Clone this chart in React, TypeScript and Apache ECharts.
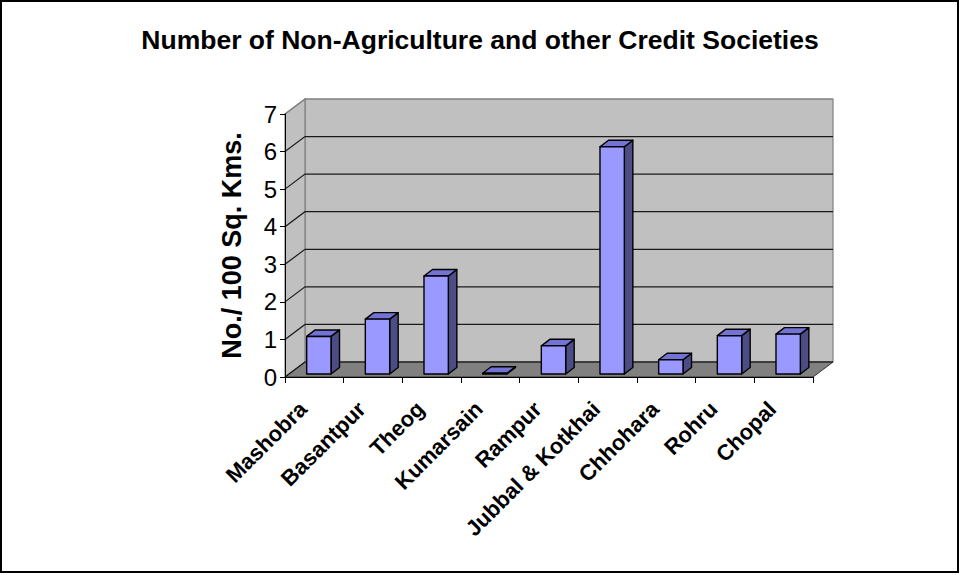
import React, { useEffect, useRef } from "react";
import * as echarts from "echarts";

const categories = ["Mashobra", "Basantpur", "Theog", "Kumarsain", "Rampur", "Jubbal & Kotkhai", "Chhohara", "Rohru", "Chopal"];
const values = [1.0, 1.46, 2.61, 0.02, 0.75, 6.05, 0.38, 1.02, 1.06];
const yTicks = [0, 1, 2, 3, 4, 5, 6, 7];

const FONT = "'Liberation Sans', Arial, Helvetica, sans-serif";
const DX = 20; // wall depth
const DY = -15;
const BOX = 4.5; // bar front offset
const BOY = -3;
const BDX = 8.5; // bar depth
const BDY = -6.5;

export default function App() {
  const ref = useRef<HTMLDivElement>(null);
  useEffect(() => {
    document.body.style.margin = "0";
    const chart = echarts.init(ref.current!, null, { renderer: "svg" });
    const option: any = {
      animation: false,
      backgroundColor: "#ffffff",
      title: {
        text: "Number of Non-Agriculture and other Credit Societies",
        left: "center",
        top: 21,
        textStyle: { fontFamily: FONT, fontSize: 26.5, fontWeight: "bold", color: "#000" },
      },
      graphic: [
        {
          type: "rect",
          shape: { x: 1, y: 1, width: 957, height: 571 },
          style: { fill: "none", stroke: "#000", lineWidth: 2 },
          silent: true,
        },
      ],
      grid: { left: 285, right: 147, top: 114, bottom: 198, containLabel: false },
      xAxis: {
        type: "category",
        data: categories,
        boundaryGap: true,
        axisLine: { show: true, lineStyle: { color: "#000", width: 1 } },
        axisTick: { show: true, length: 6, lineStyle: { color: "#000" } },
        axisLabel: {
          interval: 0,
          rotate: 45,
          margin: 17,
          padding: [0, 16, 0, 0],
          fontFamily: FONT,
          fontSize: 22,
          fontWeight: "bold",
          color: "#000",
        },
        splitLine: { show: false },
        z: 10,
      },
      yAxis: {
        type: "value",
        min: 0,
        max: 7,
        interval: 1,
        name: "No./ 100 Sq. Kms.",
        nameLocation: "middle",
        nameRotate: 90,
        nameGap: 40,
        nameTextStyle: { fontFamily: FONT, fontSize: 27, fontWeight: "bold", color: "#000" },
        axisLine: { show: true, lineStyle: { color: "#000", width: 1 } },
        axisTick: { show: true, length: 5, lineStyle: { color: "#000" } },
        axisLabel: {
          margin: 8,
          fontFamily: FONT,
          fontSize: 24,
          color: "#000",
          formatter: (v: number) => (yTicks.includes(v) ? String(v) : ""),
        },
        splitLine: { show: false },
        z: 10,
      },
      series: [
        {
          type: "custom",
          name: "walls",
          clip: false,
          silent: true,
          z: 1,
          data: [[0, 0]],
          renderItem: (params: any, api: any) => {
            const cs = params.coordSys;
            const x0 = cs.x;
            const w = cs.width;
            const yb = api.coord([0, 0])[1];
            const yt = api.coord([0, 7])[1];
            const children: any[] = [];
            children.push({
              type: "polygon",
              shape: {
                points: [
                  [x0 + DX, yt + DY],
                  [x0 + w + DX, yt + DY],
                  [x0 + w + DX, yb + DY],
                  [x0 + DX, yb + DY],
                ],
              },
              style: { fill: "#c0c0c0", stroke: "#808080", lineWidth: 1.2 },
            });
            children.push({
              type: "polygon",
              shape: {
                points: [
                  [x0, yt],
                  [x0 + DX, yt + DY],
                  [x0 + DX, yb + DY],
                  [x0, yb],
                ],
              },
              style: { fill: "#c0c0c0", stroke: "#808080", lineWidth: 1.2 },
            });
            children.push({
              type: "polygon",
              shape: {
                points: [
                  [x0, yb],
                  [x0 + DX, yb + DY],
                  [x0 + w + DX, yb + DY],
                  [x0 + w, yb],
                ],
              },
              style: { fill: "#808080", stroke: "#333", lineWidth: 1 },
            });
            yTicks.forEach((v) => {
              const y = api.coord([0, v])[1];
              const col = v === 7 ? "#808080" : "#1a1a1a";
              children.push({
                type: "polyline",
                shape: {
                  points: [
                    [x0, y],
                    [x0 + DX, y + DY],
                    [x0 + w + DX, y + DY],
                  ],
                },
                style: { fill: "none", stroke: col, lineWidth: 1.2 },
              });
            });
            return { type: "group", children };
          },
        },
        {
          type: "custom",
          name: "No./ 100 Sq. Kms.",
          clip: false,
          z: 5,
          data: values.map((v, i) => [i, v]),
          renderItem: (params: any, api: any) => {
            const idx = api.value(0);
            const v = api.value(1);
            const base = api.coord([idx, 0]);
            const top = api.coord([idx, v]);
            const bw = api.size([1, 0])[0] * 0.415;
            const x1 = base[0] + BOX - bw / 2;
            const x2 = x1 + bw;
            const yb = base[1] + BOY;
            const yt = top[1] + BOY;
            const stroke = { stroke: "#000", lineWidth: 1.4, lineJoin: "round" };
            return {
              type: "group",
              children: [
                {
                  type: "polygon",
                  shape: { points: [[x2, yt], [x2 + BDX, yt + BDY], [x2 + BDX, yb + BDY], [x2, yb]] },
                  style: { fill: "#4d4d85", ...stroke },
                },
                {
                  type: "polygon",
                  shape: { points: [[x1, yt], [x2, yt], [x2 + BDX, yt + BDY], [x1 + BDX, yt + BDY]] },
                  style: { fill: "#7373d6", ...stroke },
                },
                {
                  type: "polygon",
                  shape: { points: [[x1, yt], [x2, yt], [x2, yb], [x1, yb]] },
                  style: { fill: "#9999ff", ...stroke },
                },
              ],
            };
          },
        },
      ],
    };
    chart.setOption(option);
    return () => chart.dispose();
  }, []);
  return <div ref={ref} style={{ width: 960, height: 575 }} />;
}
